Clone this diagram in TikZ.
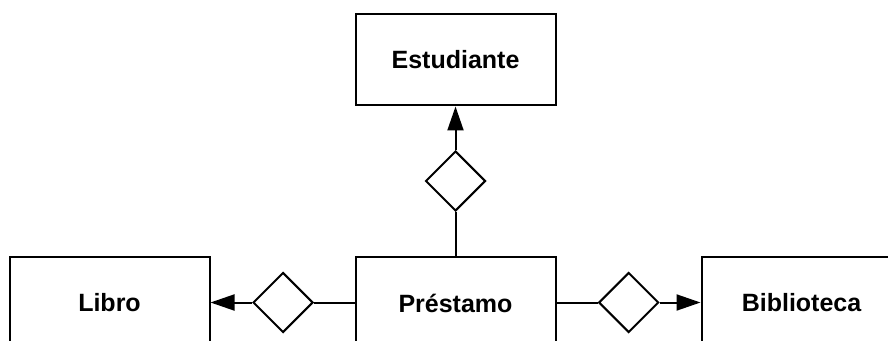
\documentclass[tikz,border=0pt]{standalone}
\usepackage{fontspec}
\setmainfont{Liberation Sans}
\usetikzlibrary{shapes.geometric,arrows.meta}
\begin{document}
\begin{tikzpicture}[x=1pt,y=1pt,
  entity/.style={draw,line width=2pt,minimum width=200pt,minimum height=91pt,inner sep=0pt,
    font=\fontsize{25}{30}\selectfont\bfseries},
  rel/.style={draw,diamond,line width=2pt,minimum width=60pt,minimum height=60pt,inner sep=0pt},
  link/.style={line width=2pt},
  arr/.style={line width=2pt,-{Triangle[length=24pt,width=16pt]}}]
\clip (0,0) rectangle (888,340);
\useasboundingbox (0,0) rectangle (888,340);
\node[entity] (est) at (455.5,280) {Estudiante};
\node[entity] (pres) at (455.5,37) {Préstamo};
\node[entity] (lib) at (109.5,37) {Libro};
\node[entity] (bib) at (801.5,37) {Biblioteca};
\node[rel] (d1) at (455.5,159) {};
\node[rel] (d2) at (283,37.5) {};
\node[rel] (d3) at (628.7,37.5) {};
\draw[link] (pres) -- (d1);
\draw[arr] (d1) -- (est);
\draw[link] (pres.west|-d2) -- (d2);
\draw[arr] (d2) -- (lib.east|-d2);
\draw[link] (pres.east|-d3) -- (d3);
\draw[arr] (d3) -- (bib.west|-d3);
\end{tikzpicture}
\end{document}
